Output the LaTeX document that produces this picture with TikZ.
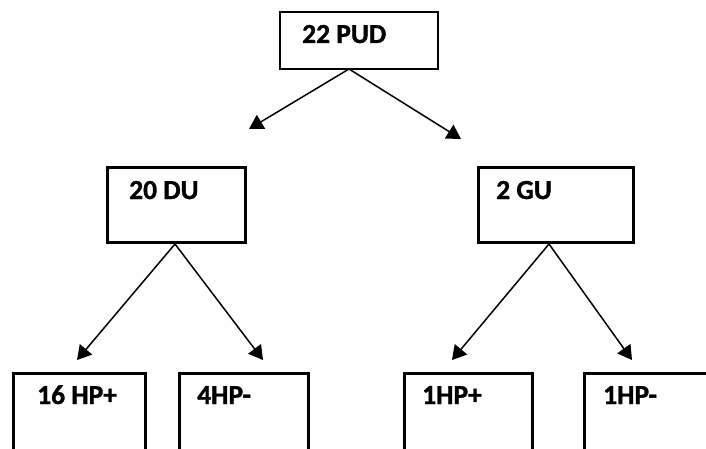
\documentclass[tikz,border=0pt]{standalone}
\usepackage{fontspec}
\setmainfont{Carlito}[BoldFeatures={FakeBold=1.2}]
\usetikzlibrary{arrows.meta}
\tikzset{
  box/.style={draw, line width=3pt, minimum width=#1, inner sep=0pt},
  lbl/.style={anchor=base west, inner sep=0pt, font=\fontsize{27.5}{32}\selectfont\bfseries},
  arr/.style={line width=1.5pt, -{Triangle[length=14pt,width=16pt]}}
}
\begin{document}
\begin{tikzpicture}[x=1pt,y=-1pt]
\clip (0,0) rectangle (706,449);
% top
\node[box=158pt, line width=1.5pt, minimum height=57pt] (top) at (359,40.5) {};
\node[lbl] (ttop) at (302,43) {22 PUD};
% middle
\node[box=138pt, minimum height=75pt] (du) at (176.5,205) {};
\node[lbl] (tdu) at (129,199) {20 DU};
\node[box=155pt, minimum height=75pt] (gu) at (556,205) {};
\node[lbl] (tgu) at (496,199) {2 GU};
% bottom
\node[box=132pt, minimum height=140pt] (hp1) at (79.5,443.5) {};
\node[lbl] (thp1) at (37,404) {16 HP+};
\node[box=129pt, minimum height=140pt] (hp2) at (244,443.5) {};
\node[lbl] (thp2) at (197,404) {4HP-};
\node[box=128pt, minimum height=140pt] (hp3) at (468.5,443.5) {};
\node[lbl] (thp3) at (422,404) {1HP+};
\node[box=160pt, minimum height=140pt] (hp4) at (664.5,443.5) {};
\node[lbl] (thp4) at (603,404) {1HP-};
% connector points
\coordinate (o1) at (349,69);
\coordinate (a1) at (249,129);
\coordinate (a2) at (461,139);
\coordinate (o2) at (175,244);
\coordinate (b1) at (77,360);
\coordinate (b2) at (263,360);
\coordinate (o3) at (549,244);
\coordinate (c1) at (452,360);
\coordinate (c2) at (632,360);
\draw[arr] (o1) -- (a1);
\draw[arr] (o1) -- (a2);
\draw[arr] (o2) -- (b1);
\draw[arr] (o2) -- (b2);
\draw[arr] (o3) -- (c1);
\draw[arr] (o3) -- (c2);
\end{tikzpicture}
\end{document}
